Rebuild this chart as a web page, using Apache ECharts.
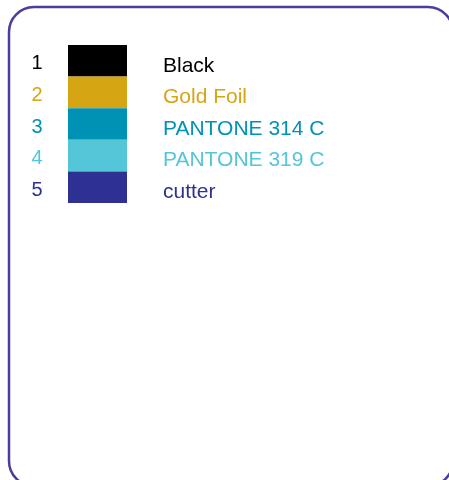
<!DOCTYPE html>
<html>
<head>
<meta charset="utf-8">
<style>html,body{margin:0;padding:0;background:#fff;}#c{width:449px;height:480px;}</style>
<script src="https://cdn.jsdelivr.net/npm/echarts@6/dist/echarts.min.js"></script>
</head>
<body>
<div id="c"></div>
<script>
const indices = ['1', '2', '3', '4', '5'];
const names = ['Black', 'Gold Foil', 'PANTONE 314 C', 'PANTONE 319 C', 'cutter'];
const colors = ['#000000', '#D5A514', '#0092B4', '#55C5D8', '#2E3192'];
const swatchValues = [1, 1, 1, 1, 1];

const chart = echarts.init(document.getElementById('c'), null, {renderer: 'canvas'});
const rich = {};
colors.forEach((c, i) => { rich['c' + i] = {color: c, fontSize: 20, fontFamily: 'Liberation Sans', padding: [6, 0, 0, 0]}; });

chart.setOption({
  animation: false,
  backgroundColor: '#ffffff',
  graphic: [{
    type: 'rect',
    shape: {x: 9, y: 7, width: 444, height: 479, r: 25},
    style: {fill: 'none', stroke: '#4C3C9C', lineWidth: 2.5},
    silent: true
  }],
  grid: {left: 68, top: 45, width: 59, height: 158},
  xAxis: {type: 'value', min: 0, max: 1, show: false},
  yAxis: {
    type: 'category', data: indices, inverse: true,
    axisLine: {show: false}, axisTick: {show: false}, splitLine: {show: false},
    axisLabel: {
      margin: 31, align: 'center',
      formatter: (v, i) => '{c' + i + '|' + v + '}',
      rich: rich
    }
  },
  series: [{
    type: 'bar',
    data: swatchValues.map((v, i) => ({
      value: v,
      itemStyle: {color: colors[i]},
      label: {color: colors[i]}
    })),
    barWidth: '100%',
    barCategoryGap: 0,
    label: {
      show: true, position: 'right', distance: 36,
      formatter: p => names[p.dataIndex],
      fontSize: 21, fontFamily: 'Liberation Sans',
      offset: [0, 5]
    }
  }]
});
</script>
</body>
</html>
